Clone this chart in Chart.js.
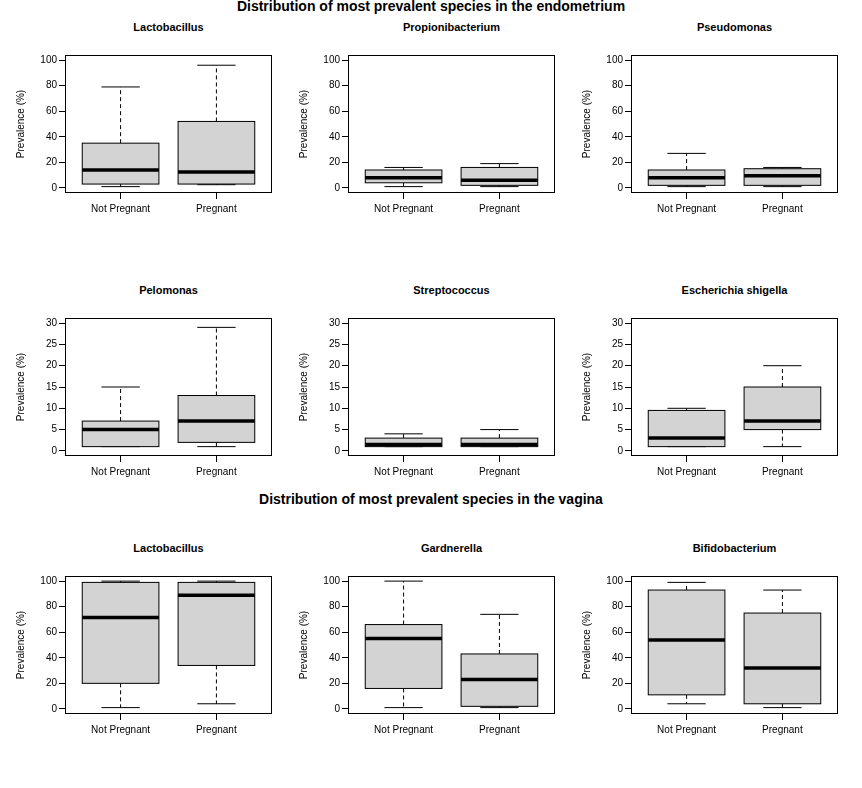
<!DOCTYPE html>
<html>
<head>
<meta charset="utf-8">
<script src="https://cdn.jsdelivr.net/npm/chart.js@4"></script>
<style>
body { margin:0; background:#fff; font-family:"Liberation Sans", Arial, sans-serif; }
#wrap { position:relative; width:862px; height:788px; }
.t { position:absolute; text-align:center; font-weight:bold; color:#000; }
canvas { position:absolute; }
</style>
</head>
<body>
<div id="wrap"></div>
<script>
// groups on the x axis
const groups = ['Not Pregnant', 'Pregnant'];

// panel titles
const endoTitles = ['Lactobacillus', 'Propionibacterium', 'Pseudomonas', 'Pelomonas', 'Streptococcus', 'Escherichia shigella'];
const vagTitles = ['Lactobacillus', 'Gardnerella', 'Bifidobacterium'];

// each box is [min, q1, median, q3, max], one per group
const endoLacto   = [[1, 3, 14, 35, 79],   [2.5, 3, 12.5, 52, 96]];
const endoPropi   = [[1, 4, 8, 14, 16],    [1, 2, 6, 16, 19]];
const endoPseudo  = [[1, 2, 8, 14, 27],    [1, 2, 9.5, 15, 16]];
const endoPelo    = [[1, 1, 5, 7, 15],     [1, 2, 7, 13, 29]];
const endoStrep   = [[1, 1, 1.5, 3, 4],    [1, 1, 1.5, 3, 5]];
const endoEsch    = [[1, 1, 3, 9.5, 10],   [1, 5, 7, 15, 20]];
const vagLacto    = [[1, 20, 71.5, 99, 100], [4, 34, 89, 99, 100]];
const vagGard     = [[1, 16, 55, 66, 100], [1, 2, 23, 43, 74]];
const vagBifido   = [[4, 11, 54, 93, 99],  [1, 4, 32, 75, 93]];

// y axis limits per row (ticks and max)
const yMax100 = 100, yStep100 = 20;
const yMax30 = 30, yStep30 = 5;

const wrap = document.getElementById('wrap');

function addText(txt, x, y, w, size) {
    const d = document.createElement('div');
    d.className = 't';
    d.style.left = x + 'px'; d.style.top = y + 'px'; d.style.width = w + 'px';
    d.style.fontSize = size + 'px';
    d.textContent = txt;
    wrap.appendChild(d);
}

// draws boxes, whiskers and medians from the data through the chart scales
const boxPlugin = {
    id: 'boxes',
    afterDatasetsDraw(chart) {
        const ctx = chart.ctx, xs = chart.scales.x, ys = chart.scales.y;
        const a = chart.chartArea;
        const stats = chart.config.options.plugins.boxes.stats;
        stats.forEach((s, i) => {
            const cx = xs.getPixelForValue(i + 1);
            const half = (xs.getPixelForValue(1.4) - xs.getPixelForValue(1)) ;
            const cap = half / 2;
            const [mn, q1, md, q3, mx] = s.map(v => ys.getPixelForValue(v));
            ctx.save();
            ctx.strokeStyle = '#000'; ctx.lineWidth = 1;
            // whiskers
            ctx.setLineDash([4, 3]);
            ctx.beginPath();
            ctx.moveTo(cx, q3); ctx.lineTo(cx, mx);
            ctx.moveTo(cx, q1); ctx.lineTo(cx, mn);
            ctx.stroke();
            ctx.setLineDash([]);
            ctx.beginPath();
            ctx.moveTo(cx - cap, mx); ctx.lineTo(cx + cap, mx);
            ctx.moveTo(cx - cap, mn); ctx.lineTo(cx + cap, mn);
            ctx.stroke();
            // box
            ctx.fillStyle = '#d3d3d3';
            ctx.fillRect(cx - half, q3, half * 2, q1 - q3);
            ctx.strokeRect(cx - half, q3, half * 2, q1 - q3);
            // median
            ctx.lineWidth = 3.5;
            ctx.beginPath();
            ctx.moveTo(cx - half, md); ctx.lineTo(cx + half, md);
            ctx.stroke();
            ctx.restore();
        });
        ctx.save();
        ctx.strokeStyle = '#000'; ctx.lineWidth = 1;
        ctx.strokeRect(a.left + 0.5, a.top + 0.5, a.right - a.left - 1, a.bottom - a.top - 1);
        ctx.restore();
    }
};

function panel(title, stats, left, top, yMax, yStep) {
    const w = 207, h = 146, padL = 50, padB = 40;
    addText(title, left, top - 26, w, 11);
    const c = document.createElement('canvas');
    c.width = w + padL; c.height = h + padB;
    c.style.left = (left - padL) + 'px'; c.style.top = top + 'px';
    wrap.appendChild(c);
    const ext = yMax * 0.04;
    new Chart(c, {
        type: 'scatter',
        data: { datasets: [{ data: stats.map((s, i) => ({ x: i + 1, y: s[2] })), pointRadius: 0 }] },
        options: {
            responsive: false, animation: false, devicePixelRatio: 1,
            layout: { padding: 0 },
            plugins: { legend: { display: false }, tooltip: { enabled: false }, boxes: { stats: stats } },
            scales: {
                x: {
                    type: 'linear', min: 0.42, max: 2.58,
                    afterBuildTicks: ax => { ax.ticks = [{ value: 1 }, { value: 2 }]; },
                    afterFit: ax => { ax.height = padB; },
                    border: { display: false },
                    grid: { drawOnChartArea: false, drawTicks: true, tickLength: 6, color: '#000' },
                    ticks: { callback: v => groups[v - 1], color: '#000', maxRotation: 0, padding: 4,
                             font: { family: 'Liberation Sans', size: 10 } }
                },
                y: {
                    min: -ext, max: yMax + ext,
                    afterBuildTicks: ax => {
                        const t = [];
                        for (let v = 0; v <= yMax; v += yStep) t.push({ value: v });
                        ax.ticks = t;
                    },
                    afterFit: ax => { ax.width = padL; },
                    border: { display: false },
                    grid: { drawOnChartArea: false, drawTicks: true, tickLength: 6, color: '#000' },
                    ticks: { color: '#000', padding: 2, font: { family: 'Liberation Sans', size: 10 } },
                    title: { display: true, text: 'Prevalence (%)', color: '#000', padding: 0,
                             font: { family: 'Liberation Sans', size: 10 } }
                }
            }
        },
        plugins: [boxPlugin]
    });
}

const lefts = [65, 348, 631];
addText('Distribution of most prevalent species in the endometrium', 0, -2, 862, 14);
addText('Distribution of most prevalent species in the vagina', 0, 491, 862, 14);

[endoLacto, endoPropi, endoPseudo].forEach((s, i) => panel(endoTitles[i], s, lefts[i], 47, yMax100, yStep100));
[endoPelo, endoStrep, endoEsch].forEach((s, i) => panel(endoTitles[i + 3], s, lefts[i], 310, yMax30, yStep30));
[vagLacto, vagGard, vagBifido].forEach((s, i) => panel(vagTitles[i], s, lefts[i], 568, yMax100, yStep100));
</script>
</body>
</html>
